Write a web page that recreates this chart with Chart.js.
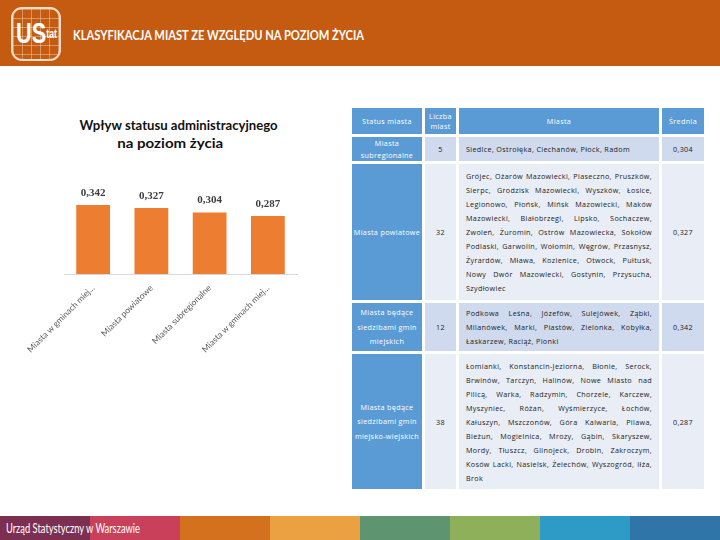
<!DOCTYPE html>
<html>
<head>
<meta charset="utf-8">
<script src="https://cdn.jsdelivr.net/npm/chart.js@4.4.1/dist/chart.umd.min.js"></script>
<style>
  html, body { margin:0; padding:0; width:720px; height:540px; overflow:hidden; background:#fff; font-family:"Lato","Open Sans",sans-serif; }
  #header { position:absolute; left:0; top:0; width:720px; height:66px; background:#C55A11; }
  #logo { position:absolute; left:11px; top:7px; width:50px; height:54px; border:2px solid #F3DCC8; border-radius:11px; box-sizing:border-box; overflow:hidden;
          background-image: linear-gradient(rgba(243,220,200,0.45) 1px, transparent 1px), linear-gradient(90deg, rgba(243,220,200,0.45) 1px, transparent 1px);
          background-size: 9px 9px; }
  #logotxt { color:#fff; font-family:"Liberation Sans","DejaVu Sans",sans-serif; font-weight:bold; line-height:34px; font-size:30px; transform-origin:left center; }
  #logotxt small { font-size:12px; vertical-align:5px; }
  .fit { position:absolute; white-space:nowrap; display:inline-block; }
  #htitle { left:73px; top:27px; color:#fff; font-family:"Liberation Sans Narrow","Lato",sans-serif; font-weight:bold; font-size:13px; line-height:16px; transform-origin:left center; }
  .ctitle { font-weight:bold; font-size:14px; line-height:18px; color:#111; font-family:"Lato",sans-serif; transform-origin:center center; }
  #chartwrap { position:absolute; left:20px; top:165px; width:300px; height:200px; }
  #tbl { position:absolute; left:349px; top:105px; border-collapse:separate; border-spacing:3px; table-layout:fixed;
         font-family:"Open Sans","Lato",sans-serif; font-size:7.2px; letter-spacing:0.35px; color:#1a1a1a; }
  #tbl td, #tbl th { padding:0; vertical-align:middle; text-align:center; font-weight:normal; overflow:hidden; }
  #tbl th { background:#5B9BD5; color:#fff; height:26px; line-height:10px; }
  #tbl td.st { background:#5B9BD5; color:#fff; line-height:14.5px; }
  #tbl tr.first td.st { line-height:12px; }
  #tbl tr.b1 td:not(.st) { background:#D0DAEE; }
  #tbl tr.b2 td:not(.st) { background:#E9EEF6; }
  #tbl td.cities { text-align:justify; padding:0 7px; line-height:14px; }
  #footer { position:absolute; left:0; top:516px; width:720px; height:24px; display:flex; }
  #footer div { width:90px; height:24px; }
  #ftext { left:6px; top:520px; color:#fff; font-family:"Liberation Sans Narrow","Lato",sans-serif; font-size:14px; line-height:16px; transform-origin:left center; }
</style>
</head>
<body>
<script>
// ---- data ----
const categories = ['Miasta w gminach miejskich', 'Miasta powiatowe', 'Miasta subregionalne', 'Miasta w gminach miejsko-wiejskich'];
const values = [0.342, 0.327, 0.304, 0.287];

const tableHeaders = ['Status miasta', 'Liczba miast', 'Miasta', 'Średnia'];
const statuses = ['Miasta subregionalne', 'Miasta powiatowe', 'Miasta będące siedzibami gmin miejskich', 'Miasta będące siedzibami gmin miejsko-wiejskich'];
const counts = [5, 32, 12, 38];
const cityLists = [
  'Siedlce, Ostrołęka, Ciechanów, Płock, Radom',
  'Grójec, Ożarów Mazowiecki, Piaseczno, Pruszków, Sierpc, Grodzisk Mazowiecki, Wyszków, Łosice, Legionowo, Płońsk, Mińsk Mazowiecki, Maków Mazowiecki, Białobrzegi, Lipsko, Sochaczew, Zwoleń, Żuromin, Ostrów Mazowiecka, Sokołów Podlaski, Garwolin, Wołomin, Węgrów, Przasnysz, Żyrardów, Mława, Kozienice, Otwock, Pułtusk, Nowy Dwór Mazowiecki, Gostynin, Przysucha, Szydłowiec',
  'Podkowa Leśna, Józefów, Sulejówek, Ząbki, Milanówek, Marki, Piastów, Zielonka, Kobyłka, Łaskarzew, Raciąż, Pionki',
  'Łomianki, Konstancin-Jeziorna, Błonie, Serock, Brwinów, Tarczyn, Halinów, Nowe Miasto nad Pilicą, Warka, Radzymin, Chorzele, Karczew, Myszyniec, Różan, Wyśmierzyce, Łochów, Kałuszyn, Mszczonów, Góra Kalwaria, Pilawa, Bieżun, Mogielnica, Mrozy, Gąbin, Skaryszew, Mordy, Tłuszcz, Glinojeck, Drobin, Zakroczym, Kosów Lacki, Nasielsk, Żelechów, Wyszogród, Iłża, Brok'
];
const means = [0.304, 0.327, 0.342, 0.287];

const pageTitle = 'KLASYFIKACJA MIAST ZE WZGLĘDU NA POZIOM ŻYCIA';
const chartTitle = ['Wpływ statusu administracyjnego', 'na poziom życia'];
const footerText = 'Urząd Statystyczny w Warszawie';
const footerColors = ['#7D2F52', '#C9405A', '#D4711F', '#EBA141', '#5F9470', '#8FB05B', '#2E9BC6', '#2F75A8'];
</script>

<div id="header">
  <div id="logo"><span id="logotxt" class="fit">US<small>tat</small></span></div>
</div>
<div id="htitle" class="fit"></div>
<div id="ct1" class="fit ctitle"></div>
<div id="ct2" class="fit ctitle"></div>
<div id="chartwrap"><canvas id="c" width="300" height="200"></canvas></div>
<table id="tbl">
  <colgroup><col style="width:70px"><col style="width:31px"><col style="width:200px"><col style="width:42px"></colgroup>
  <thead><tr id="hrow"></tr></thead>
  <tbody id="tbody"></tbody>
</table>
<div id="footer"></div>
<div id="ftext" class="fit"></div>

<script>
document.getElementById('htitle').textContent = pageTitle;
document.getElementById('ct1').textContent = chartTitle[0];
document.getElementById('ct2').textContent = chartTitle[1];
document.getElementById('ftext').textContent = footerText;
const footer = document.getElementById('footer');
footerColors.forEach(c => { const d = document.createElement('div'); d.style.background = c; footer.appendChild(d); });

function fit(id, left, top, width, centered) {
  const el = document.getElementById(id);
  const w = el.getBoundingClientRect().width;
  const s = width / w;
  el.style.top = top + 'px';
  el.style.left = (centered ? (left + width / 2 - w / 2) : left) + 'px';
  el.style.transform = 'scaleX(' + s + ')';
}
fit('logotxt', 3, 7, 41, false);
fit('htitle', 73, 27, 291, false);
fit('ct1', 80, 116, 198, true);
fit('ct2', 117, 134, 106, true);
fit('ftext', 6, 520, 134, false);

// table
const fmt = v => v.toFixed(3).replace('.', ',');
const hrow = document.getElementById('hrow');
tableHeaders.forEach(h => { const th = document.createElement('th'); th.textContent = h; hrow.appendChild(th); });
const rowHeights = [24, 136, 48, 135];
const tbody = document.getElementById('tbody');
statuses.forEach((s, i) => {
  const tr = document.createElement('tr');
  tr.className = (i % 2 === 0 ? 'b1' : 'b2') + (i === 0 ? ' first' : '');
  tr.style.height = rowHeights[i] + 'px';
  const cells = [[s, 'st'], [String(counts[i]), ''], [cityLists[i], 'cities'], [fmt(means[i]), '']];
  cells.forEach(([t, cls]) => { const td = document.createElement('td'); td.textContent = t; if (cls) td.className = cls; tr.appendChild(td); });
  tbody.appendChild(tr);
});

// chart
const valueLabels = {
  id: 'valueLabels',
  afterDatasetsDraw(chart) {
    const ctx = chart.ctx;
    const meta = chart.getDatasetMeta(0);
    ctx.save();
    ctx.font = 'bold 11px "Liberation Serif", serif';
    ctx.fillStyle = '#404040';
    ctx.textAlign = 'center';
    ctx.textBaseline = 'middle';
    meta.data.forEach((bar, i) => {
      ctx.fillText(fmt(chart.data.datasets[0].data[i]), bar.x, bar.y - 12);
    });
    ctx.restore();
  }
};

new Chart(document.getElementById('c'), {
  type: 'bar',
  data: {
    labels: categories,
    datasets: [{ data: values, backgroundColor: '#ED7D31', barPercentage: 0.58, categoryPercentage: 1.0 }]
  },
  options: {
    responsive: false,
    devicePixelRatio: 1,
    animation: false,
    layout: { padding: { left: 44, right: 23, top: 8, bottom: 0 } },
    plugins: { legend: { display: false }, tooltip: { enabled: false } },
    scales: {
      y: { display: false, min: 0, max: 0.5 },
      x: {
        grid: { display: false, drawTicks: false },
        border: { display: true, color: '#D9D9D9', width: 1 },
        ticks: {
          autoSkip: false, minRotation: 45, maxRotation: 45, padding: 9,
          color: '#595959', font: { family: 'Lato', size: 8.5 },
          callback: function (v, i) { const l = categories[i]; return l.length > 21 ? l.slice(0, 21) + '...' : l; }
        },
        afterFit(scale) { scale.height = 91; scale.paddingLeft = 0; scale.paddingRight = 0; }
      }
    }
  },
  plugins: [valueLabels]
});
</script>
</body>
</html>
